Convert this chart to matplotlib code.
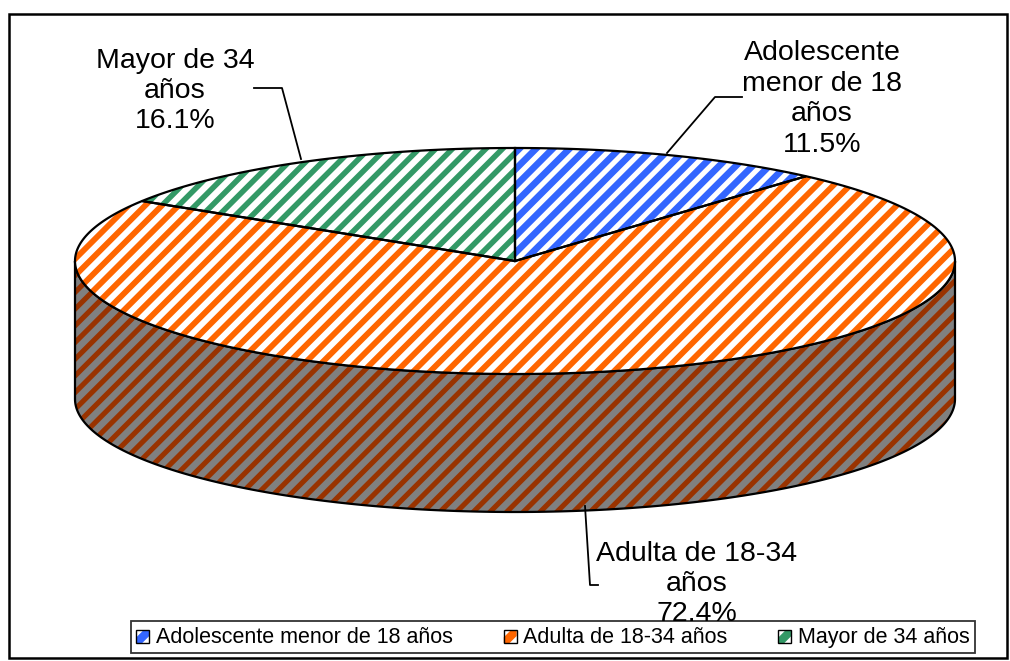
import numpy as np
import matplotlib
matplotlib.use("Agg")
import matplotlib.pyplot as plt
from matplotlib.patches import Polygon, Rectangle
from matplotlib.collections import LineCollection
from matplotlib.legend_handler import HandlerBase

plt.rcParams['font.family'] = ['Liberation Sans', 'DejaVu Sans']

# data (percent), clockwise from 12 o'clock
labels = ["Adolescente menor de 18 años", "Adulta de 18-34 años", "Mayor de 34 años"]
pie_labels = ["Adolescente\nmenor de 18\naños", "Adulta de 18-34\naños", "Mayor de 34\naños"]
values = [11.5, 72.4, 16.1]
top_colors = ["#3366FF", "#FF6600", "#339966"]
stripe_w = [4.8, 4.2, 4.0]
side_stripe = "#993300"

# pie geometry in pixel coordinates
cx, cy, a, b, depth = 515, 261, 440, 113, 138
PERIOD = 16.7

fig = plt.figure(figsize=(10.1, 6.61), dpi=100)
ax = fig.add_axes([0, 0, 1, 1])
ax.set_xlim(0, 1010); ax.set_ylim(661, 0); ax.axis('off')

def ell(t, dy=0):
    t = np.radians(t)
    return cx + a*np.cos(t), cy - b*np.sin(t) + dy

def striped(pts, bg, fg, lw, z):
    p = Polygon(pts, closed=True, facecolor=bg, edgecolor='none', lw=0, zorder=z)
    ax.add_patch(p)
    cs = np.arange(0, 1800, PERIOD)
    segs = [[(c, 0), (c - 800, 800)] for c in cs]
    lc = LineCollection(segs, colors=fg, linewidths=lw, zorder=z + 0.1)
    ax.add_collection(lc)
    lc.set_clip_path(p)
    ax.add_patch(Polygon(pts, closed=True, facecolor='none', edgecolor='black', lw=1.6, zorder=z + 0.2))

fr = np.array(values) / sum(values)
ends = 90 - 360*np.cumsum(fr)
starts = np.concatenate([[90], ends[:-1]])

# side walls (front half: angles 180..360)
for s, e in zip(starts, ends):
    for shift in (0, 360, -360):
        l2, h2 = max(e + shift, 180), min(s + shift, 360)
        if h2 > l2:
            t = np.linspace(l2, h2, 200)
            xt, yt = ell(t)
            xb, yb = ell(t[::-1], depth)
            pts = np.column_stack([np.concatenate([xt, xb]), np.concatenate([yt, yb])])
            striped(pts, "#808080", side_stripe, 3.7, 1)

# top slices
for s, e, col, w in zip(starts, ends, top_colors, stripe_w):
    t = np.linspace(s, e, 300)
    xt, yt = ell(t)
    pts = np.column_stack([np.concatenate([[cx], xt]), np.concatenate([[cy], yt])])
    striped(pts, 'white', col, w, 3)

# labels and leader lines
lab_pos = [(822, 99), (697, 584), (175, 91)]
leaders = [[(742, 97), (715, 97), (667, 153)],
           [(598, 585), (590, 585), (585, 506)],
           [(254, 88), (282, 88), (301, 159)]]
for txt, v, (x, y), ld in zip(pie_labels, values, lab_pos, leaders):
    ax.text(x, y, f"{txt}\n{v:.1f}%", ha='center', va='center', fontsize=20.5,
            linespacing=1.22, zorder=6)
    lx, ly = zip(*ld)
    ax.plot(lx, ly, color='black', lw=1.3, zorder=5)

# outer border
ax.add_patch(Rectangle((9, 14), 998, 644, facecolor='none', edgecolor='black', lw=1.8, zorder=7))

# legend markers: small square with a diagonal colour band
class BandHandler(HandlerBase):
    def create_artists(self, legend, orig_handle, xd, yd, w, h, fontsize, trans):
        s = min(w, h)
        x0, y0 = xd + (w - s)/2, yd + (h - s)/2
        band = Polygon([(x0, y0), (x0 + 0.45*s, y0), (x0 + s, y0 + 0.55*s), (x0 + s, y0 + s),
                        (x0 + 0.55*s, y0 + s), (x0, y0 + 0.45*s)], closed=True,
                       facecolor=orig_handle, edgecolor='none', transform=trans)
        box = Rectangle((x0, y0), s, s, facecolor='none', edgecolor='black', lw=1.0, transform=trans)
        return [band, box]

leg = ax.legend(top_colors, labels, handler_map={str: BandHandler()}, ncol=3,
                loc='upper left', mode='expand',
                bbox_to_anchor=(131/1010, 1 - 622/661, 844/1010, 0.001),
                fontsize=15.5, frameon=True, fancybox=False, edgecolor='black',
                handlelength=0.6, handleheight=0.6, handletextpad=0.3,
                columnspacing=1.0, borderpad=0.25, borderaxespad=0)
leg.get_frame().set_linewidth(1.3)
leg.set_zorder(8)

fig.savefig("out.png", dpi=100)
